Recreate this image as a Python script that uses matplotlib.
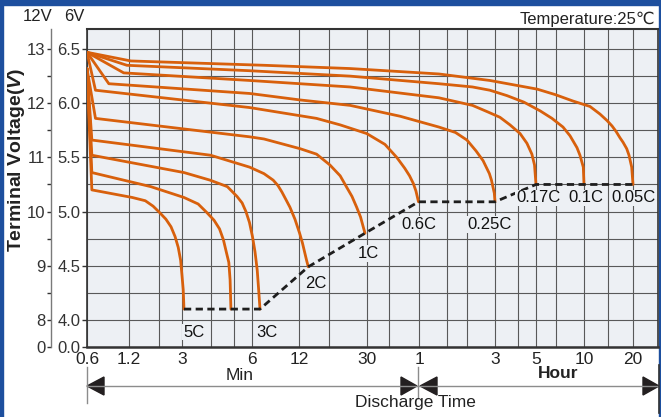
import numpy as np
import matplotlib
matplotlib.use('Agg')
import matplotlib.pyplot as plt
from matplotlib.patches import Rectangle, Polygon

plt.rcParams['font.family'] = ['Liberation Sans', 'DejaVu Sans']
plt.rcParams['mathtext.fontset'] = 'custom'
plt.rcParams['mathtext.it'] = 'Liberation Sans:italic:bold'
plt.rcParams['mathtext.rm'] = 'Liberation Sans:bold'

# ---------------- data (time in minutes, voltage on the 6V scale) ----------------
t_005 = [0.6, 1.24, 7.2, 23.9, 80, 167, 305, 395, 512, 653, 752, 831, 892, 944, 999,
         1042, 1098, 1134, 1178, 1200]
v_005 = [6.47, 6.39, 6.35, 6.32, 6.27, 6.21, 6.13, 6.08, 6.02, 5.97, 5.90, 5.84, 5.79, 5.74, 5.68,
         5.64, 5.58, 5.52, 5.41, 5.25]

t_01 = [0.6, 1.16, 5.86, 23.9, 80, 130, 167, 209, 258, 318, 378, 443, 490, 542, 566, 594, 600]
v_01 = [6.47, 6.35, 6.30, 6.25, 6.18, 6.15, 6.12, 6.07, 6.01, 5.93, 5.86, 5.78, 5.70, 5.59, 5.52, 5.41, 5.25]

t_017 = [0.6, 1.10, 5.86, 23.9, 80, 130, 162, 191.5, 217, 246, 268, 285, 294.5, 300]
v_017 = [6.47, 6.28, 6.21, 6.15, 6.05, 5.98, 5.92, 5.87, 5.80, 5.72, 5.63, 5.53, 5.43, 5.25]

t_025 = [0.6, 0.86, 5.86, 12.2, 23.9, 46.6, 80, 101.6, 120, 136.8, 151.5, 166, 171, 178.2, 180]
v_025 = [6.47, 6.18, 6.09, 6.03, 5.98, 5.88, 5.78, 5.73, 5.66, 5.56, 5.47, 5.35, 5.29, 5.17, 5.09]

t_06 = [0.6, 0.69, 5.86, 15.2, 20.9, 29.9, 38.1, 44.6, 49.6, 52.9, 55.6, 57.6, 59.6]
v_06 = [6.47, 6.12, 5.96, 5.86, 5.80, 5.72, 5.62, 5.50, 5.40, 5.33, 5.26, 5.19, 5.09]

t_1 = [0.6, 0.69, 5.86, 7.16, 12.2, 15.2, 18.2, 20.9, 22.9, 24.5, 26.1, 27.5, 28.5, 29.2]
v_1 = [6.32, 5.86, 5.69, 5.67, 5.58, 5.53, 5.43, 5.33, 5.22, 5.14, 5.04, 4.95, 4.86, 4.80]

t_2 = [0.6, 0.65, 3.98, 5.86, 7.16, 8.2, 8.8, 9.33, 9.9, 10.5, 11.3, 12.1, 12.57, 12.97, 13.29, 13.6]
v_2 = [6.32, 5.66, 5.52, 5.41, 5.35, 5.29, 5.24, 5.18, 5.11, 5.04, 4.93, 4.80, 4.71, 4.62, 4.55, 4.49]

t_3 = [0.6, 0.65, 3.06, 3.96, 4.70, 5.17, 5.44, 5.65, 5.85, 6.04, 6.27, 6.48, 6.61, 6.75]
v_3 = [6.32, 5.52, 5.36, 5.29, 5.23, 5.14, 5.08, 5.00, 4.90, 4.77, 4.63, 4.46, 4.29, 4.10]

t_4 = [0.6, 0.65, 1.75, 3.06, 3.52, 3.84, 4.12, 4.35, 4.52, 4.66, 4.77, 4.83, 4.87]
v_4 = [6.32, 5.36, 5.23, 5.13, 5.07, 4.99, 4.92, 4.84, 4.74, 4.62, 4.53, 4.37, 4.10]

t_5 = [0.6, 0.65, 1.27, 1.59, 1.82, 2.04, 2.27, 2.48, 2.66, 2.81, 2.93, 3.0, 3.036, 3.06]
v_5 = [6.32, 5.20, 5.13, 5.10, 5.05, 4.99, 4.93, 4.86, 4.77, 4.67, 4.55, 4.41, 4.28, 4.10]

rate_labels = ['0.05C', '0.1C', '0.17C', '0.25C', '0.6C', '1C', '2C', '3C', '', '5C']
curve_t = [t_005, t_01, t_017, t_025, t_06, t_1, t_2, t_3, t_4, t_5]
curve_v = [v_005, v_01, v_017, v_025, v_06, v_1, v_2, v_3, v_4, v_5]

# label offsets from the curve end (pixels: dx, dy downwards)
label_off = [(-22, 13.5), (-16, 13.5), (-20, 13.5), (-28, 22.5), (-17, 23),
             (-7, 20.5), (-3, 16.5), (-4, 23), (0, 0), (-1, 23)]

x_tick_t = [0.6, 1.2, 3, 6, 12, 30, 60, 180, 300, 600, 1200]
x_tick_labels = ['0.6', '1.2', '3', '6', '12', '30', '1', '3', '5', '10', '20']
x_grid_t = [2, 4, 5, 18, 40, 90, 120, 240, 400, 840]
X_MAX = 1710

# layout anchors of the hand-drawn time axis (pixel positions of the ticks)
anchor_t = x_tick_t + [X_MAX]
anchor_px = [87, 129, 182, 252, 299, 367, 419, 495, 536, 584, 633, 658]

y6_ticks = [3.75, 4.0, 4.5, 5.0, 5.5, 6.0, 6.5]
y6_labels = ['0.0', '4.0', '4.5', '5.0', '5.5', '6.0', '6.5']
y12_ticks = [7.5, 8, 9, 10, 11, 12, 13]
y12_labels = ['0', '8', '9', '10', '11', '12', '13']

# ---------------- scale ----------------
LT = np.log10(anchor_t)
PX = np.array(anchor_px, float)


def _interp_ext(x, xp, fp):
    x = np.asarray(x, float)
    y = np.interp(x, xp, fp)
    s0 = (fp[1] - fp[0]) / (xp[1] - xp[0])
    s1 = (fp[-1] - fp[-2]) / (xp[-1] - xp[-2])
    y = np.where(x < xp[0], fp[0] + (x - xp[0]) * s0, y)
    y = np.where(x > xp[-1], fp[-1] + (x - xp[-1]) * s1, y)
    return y


def fwd(t):
    t = np.asarray(t, float)
    with np.errstate(all='ignore'):
        lg = np.log10(np.where(t > 0, t, 1e-9))
    return _interp_ext(lg, LT, PX)


def inv(p):
    return 10 ** _interp_ext(p, PX, LT)


W, H = 661, 417
fig = plt.figure(figsize=(W / 100, H / 100), dpi=100)
fig.patch.set_facecolor('white')

# overlay in pixel coordinates
ov = fig.add_axes([0, 0, 1, 1], zorder=0)
ov.set_xlim(0, W)
ov.set_ylim(H, 0)
ov.axis('off')
ov.patch.set_alpha(0)

L, R, T, B = 87, 658, 29, 347
ax = fig.add_axes([L / W, (H - B) / H, (R - L) / W, (B - T) / H], zorder=2)
ax.set_facecolor('#edf0f4')
ax.set_xscale('function', functions=(fwd, inv))
ax.set_xlim(0.6, X_MAX)
ax.set_ylim(3.75, 6.685)

ax.set_xticks(x_tick_t, labels=x_tick_labels)
ax.set_xticks(x_grid_t, minor=True)
ax.set_yticks(y6_ticks, labels=y6_labels)
ax.set_yticks(np.arange(4.25, 6.5, 0.5), minor=True)
ax.tick_params(axis='x', which='both', length=0, pad=3.5, labelsize=12.5, colors='#222222')
ax.tick_params(axis='y', which='major', length=3.6, width=1, pad=1.2, labelsize=12, colors='#333333')
ax.tick_params(axis='y', which='minor', length=0)
ax.grid(True, which='both', color='#595959', lw=0.8)
ax.set_axisbelow(True)
for s in ax.spines.values():
    s.set_color('#333333')
    s.set_linewidth(1.2)
ax.spines['bottom'].set_linewidth(1.8)
ax.spines['top'].set_linewidth(1.5)

sec = ax.secondary_yaxis(-0.063, functions=(lambda v: 2 * v, lambda v: v / 2))
sec.set_yticks(y12_ticks, labels=y12_labels)
sec.set_yticks([8.5, 9.5, 10.5, 11.5, 12.5], minor=True)
sec.tick_params(which='both', length=3.2, width=1, pad=0.8, labelsize=12, colors='#333333')
sec.spines['left'].set_color('#7a7a7a')
sec.spines['left'].set_linewidth(1.0)

ORANGE = '#d8600c'
for t, v in zip(curve_t, curve_v):
    ax.plot(t, v, color=ORANGE, lw=2.0, solid_joinstyle='round', solid_capstyle='round', zorder=3)

ends = sorted([(t[-1], v[-1]) for t, v in zip(curve_t, curve_v)])
ax.plot([e[0] for e in ends], [e[1] for e in ends], color='#1e1e1e', lw=2.0,
        linestyle=(0, (2.6, 1.6)), zorder=4)

for t, v, lab, (dx, dy) in zip(curve_t, curve_v, rate_labels, label_off):
    if not lab:
        continue
    ax.annotate(lab, (t[-1], v[-1]), xytext=(dx * 0.72, -dy * 0.72), textcoords='offset points',
                ha='left', va='center', fontsize=12, color='#111111', zorder=5,
                bbox=dict(boxstyle='square,pad=0.05', fc='#edf0f4', ec='none'))

# ---------------- decorations ----------------
BLUE = '#1d4f9e'
ov.add_patch(Rectangle((0, 0), W, 4.5, color=BLUE, zorder=10))
ov.add_patch(Rectangle((0, 0), 2.5, H, color=BLUE, zorder=10))
ov.add_patch(Rectangle((W - 2.3, 0), 2.3, H, color=BLUE, zorder=10))

ov.text(38, 16, '12V', ha='center', va='center', fontsize=12, color='#222222')
ov.text(74, 16, '6V', ha='center', va='center', fontsize=12, color='#222222')
ov.text(655, 19, 'Temperature:25℃', ha='right', va='center', fontsize=12, color='#222222')
ov.text(17, 160, 'Terminal Voltage($\\mathit{V}$)', rotation=90, ha='center', va='center',
        fontsize=14, fontweight='bold', color='#222222')

x0, xm, x1 = float(fwd(0.6)), float(fwd(60)), float(fwd(X_MAX))
ya = 386
ov.plot([x0, x1], [ya, ya], color='#8c8c8c', lw=1.0)
ov.plot([x0, x0], [367, 403], color='#8c8c8c', lw=1.0)
ov.plot([xm - 1, xm - 1], [367, 398], color='#8c8c8c', lw=1.0)
ov.plot([x1 + 1, x1 + 1], [365, 413], color='#333333', lw=1.2, zorder=11)
TRI = '#231f20'
ov.add_patch(Polygon([(x0, ya), (x0 + 17, ya - 9), (x0 + 17, ya + 9)], color=TRI))
ov.add_patch(Polygon([(xm - 2, ya), (xm - 18, ya - 9), (xm - 18, ya + 9)], color=TRI))
ov.add_patch(Polygon([(xm + 1, ya), (xm + 18, ya - 9), (xm + 18, ya + 9)], color=TRI))
ov.add_patch(Polygon([(x1 + 1, ya), (x1 - 15, ya - 9), (x1 - 15, ya + 9)], color=TRI))

ov.text(240, 376, 'Min', ha='center', va='center', fontsize=12.5, color='#222222')
ov.text(558, 373, 'Hour', ha='center', va='center', fontsize=12.5, fontweight='bold', color='#222222')
ov.text(415, 402, 'Discharge Time', ha='center', va='center', fontsize=12.5, color='#222222')

fig.savefig('out.png', dpi=100, facecolor='white')
